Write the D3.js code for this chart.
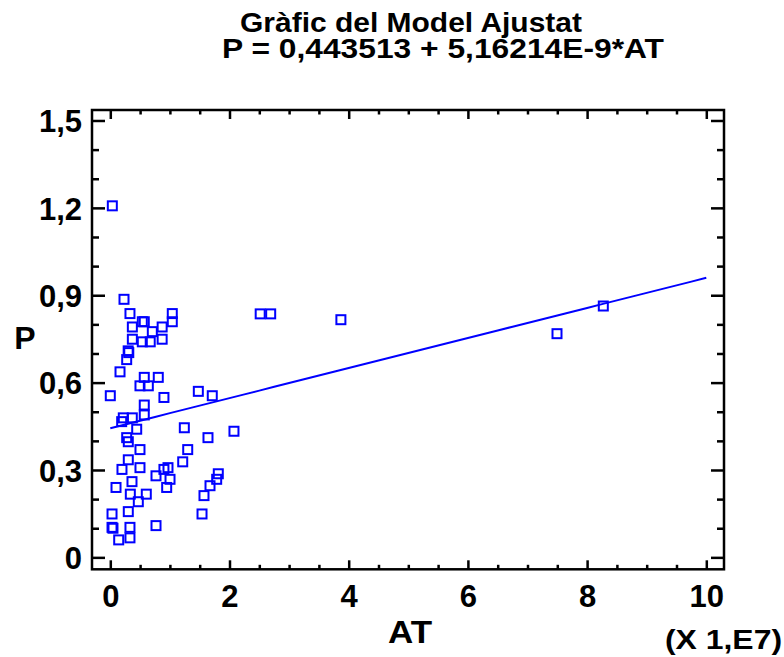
<!DOCTYPE html>
<html><head><meta charset="utf-8">
<script src="https://cdn.jsdelivr.net/npm/d3@7"></script>
<style>
html,body{margin:0;padding:0;background:#fff;}
svg text{font-family:"Liberation Sans",Arial,Helvetica,sans-serif;font-weight:bold;fill:#000;}
</style></head>
<body>
<svg id="chart" width="784" height="657"></svg>
<script>
// ---- data ----
const titleLines = ["Gràfic del Model Ajustat", "P = 0,443513 + 5,16214E-9*AT"];
const xLabel = "AT";
const yLabel = "P";
const xMultiplier = "(X 1,E7)";
const intercept = 0.443513;
const slopePerUnit = 0.0516214; // per 1E7 units of AT
const xTicks = [0, 2, 4, 6, 8, 10];
const xMinorTicks = [0.5,1,1.5,2.5,3,3.5,4.5,5,5.5,6.5,7,7.5,8.5,9,9.5];
const yTicks = [0, 0.3, 0.6, 0.9, 1.2, 1.5];
const yMinorTicks = [0.1,0.2,0.4,0.5,0.7,0.8,1.0,1.1,1.3,1.4];
const AT = [0.034,0.23,0.33,1.04,1.04,0.37,0.537,0.57,0.87,0.705,0.37,0.537,0.67,0.87,0.30,0.31,0.275,0.163,0.57,0.805,
  0.498,0.638,0.0,1.477,1.711,0.90,0.57,0.57,0.218,0.369,0.191,0.443,1.242,0.275,0.302,1.639,2.075,0.498,1.299,0.302,
  0.196,0.498,1.215,0.90,0.968,0.767,1.002,0.364,1.812,1.785,1.673,0.096,0.946,0.336,0.604,0.470,1.572,0.029,0.302,1.539,
  0.029,0.045,0.33,0.767,0.141,0.33,2.515,2.691,3.869,7.495,8.272];
const P = [1.207,0.886,0.837,0.837,0.809,0.791,0.809,0.809,0.791,0.775,0.749,0.740,0.740,0.749,0.709,0.703,0.679,0.637,0.618,0.618,
  0.589,0.589,0.555,0.570,0.555,0.549,0.523,0.489,0.479,0.479,0.466,0.440,0.445,0.411,0.397,0.411,0.433,0.370,0.370,0.335,
  0.302,0.308,0.328,0.302,0.308,0.280,0.268,0.260,0.287,0.268,0.246,0.240,0.240,0.217,0.217,0.191,0.212,0.149,0.157,0.149,
  0.103,0.100,0.103,0.109,0.060,0.067,0.836,0.836,0.816,0.768,0.863];
const fitRange = [0, 10];

// ---- layout ----
const L = 92, R = 724, T = 110, B = 569.3;
const svg = d3.select("#chart");
const x = d3.scaleLinear().domain([-0.307, 10.297]).range([L, R]);
const y = d3.scaleLinear().domain([-0.041, 1.536]).range([B, T]);
const fmt = d => d === 0 ? "0" : d3.format(".1f")(d).replace(".", ",");
const blue = "#0000ff";

// frame
svg.append("rect").attr("x", L).attr("y", T).attr("width", R - L).attr("height", B - T)
  .attr("fill", "none").attr("stroke", "#000").attr("stroke-width", 2.5);

function ax(gen, tx, ty, vals, size, labels) {
  const g = svg.append("g").attr("transform", `translate(${tx},${ty})`)
    .call(gen.tickValues(vals).tickSizeInner(size).tickSizeOuter(0).tickPadding(9)
      .tickFormat(labels ? labels : () => ""));
  g.select(".domain").remove();
  g.selectAll(".tick line").attr("stroke", "#000").attr("stroke-width", 2.5);
  return g;
}
// bottom / top x ticks (inward)
const gxb = ax(d3.axisBottom(x), 0, B, xTicks, -9, d => String(d));
ax(d3.axisBottom(x), 0, B, xMinorTicks, -4.5);
ax(d3.axisTop(x), 0, T, xTicks, -9);
ax(d3.axisTop(x), 0, T, xMinorTicks, -4.5);
// left / right y ticks
const gyl = ax(d3.axisLeft(y), L, 0, yTicks, -13, fmt);
ax(d3.axisLeft(y), L, 0, yMinorTicks, -7);
ax(d3.axisRight(y), R, 0, yTicks, -13);
ax(d3.axisRight(y), R, 0, yMinorTicks, -7);

gxb.selectAll(".tick text").attr("font-size", 31).attr("dy", null).attr("y", 38);
gyl.selectAll(".tick text").attr("font-size", 31).attr("x", -10).attr("dy", "0.36em");

// fitted line
const lineData = d3.range(fitRange[0], fitRange[1] + 0.001, 0.25).map(a => [a, intercept + slopePerUnit * a]);
svg.append("path").datum(lineData)
  .attr("d", d3.line().x(d => x(d[0])).y(d => y(d[1])))
  .attr("fill", "none").attr("stroke", blue).attr("stroke-width", 2);

// points
const pts = AT.map((a, i) => ({a, p: P[i]}));
svg.append("g").selectAll("rect").data(pts).join("rect")
  .attr("x", d => x(d.a) - 4.5).attr("y", d => y(d.p) - 4.5)
  .attr("width", 9).attr("height", 9)
  .attr("fill", "none").attr("stroke", blue).attr("stroke-width", 2);

// title (one text element, two lines)
const title = svg.append("text").attr("font-size", 28);
title.append("tspan").attr("x", 240).attr("y", 32)
  .attr("textLength", 342).attr("lengthAdjust", "spacingAndGlyphs").text(titleLines[0]);
title.append("tspan").attr("x", 222).attr("y", 57.5)
  .attr("textLength", 442).attr("lengthAdjust", "spacingAndGlyphs").text(titleLines[1]);

// axis titles
svg.append("text").attr("x", 410).attr("y", 643).attr("text-anchor", "middle").attr("font-size", 32)
  .attr("textLength", 44).attr("lengthAdjust", "spacingAndGlyphs").text(xLabel);
svg.append("text").attr("x", 25).attr("y", 349).attr("text-anchor", "middle").attr("font-size", 32).text(yLabel);
svg.append("text").attr("x", 665).attr("y", 649).attr("font-size", 28)
  .attr("textLength", 117).attr("lengthAdjust", "spacingAndGlyphs").text(xMultiplier);
</script>
</body></html>
